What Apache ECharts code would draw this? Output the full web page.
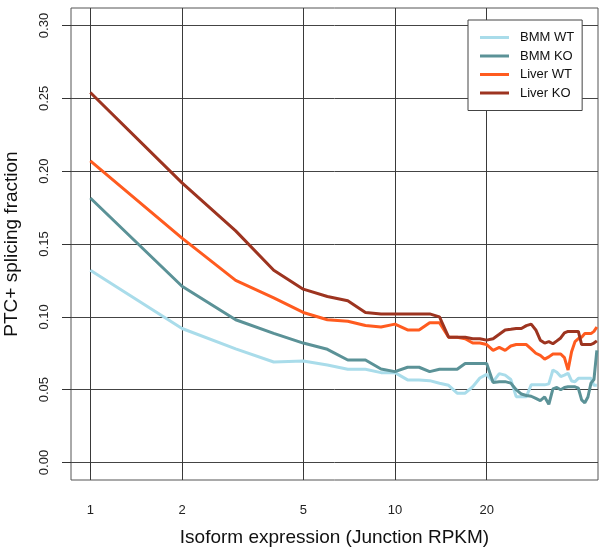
<!DOCTYPE html>
<html>
<head>
<meta charset="utf-8">
<script src="https://cdn.jsdelivr.net/npm/echarts@6/dist/echarts.min.js"></script>
<style>
  html, body { margin: 0; padding: 0; background: #fff; }
  #chart { width: 600px; height: 548px; }
</style>
</head>
<body>
<div id="chart"></div>
<script>
// junction RPKM cutoff (x), one point per integer value
const rpkm = [];
for (let i = 1; i <= 46; i++) rpkm.push(i);

const bmmWT = [0.132, 0.092, 0.078, 0.069, 0.0697, 0.067, 0.064, 0.064, 0.0617, 0.0617,
  0.0567, 0.0567, 0.0562, 0.0544, 0.053, 0.0476, 0.0476, 0.052, 0.058, 0.0605,
  0.0555, 0.061, 0.060, 0.057, 0.0452, 0.0452, 0.0452, 0.0533, 0.0533, 0.0533,
  0.0533, 0.054, 0.0635, 0.062, 0.059, 0.060, 0.0613, 0.056, 0.0555, 0.0578,
  0.0578, 0.0578, 0.0578, 0.0578, 0.053, 0.053];

const bmmKO = [0.1816, 0.121, 0.098, 0.0887, 0.082, 0.0777, 0.0704, 0.0704, 0.0642, 0.0624,
  0.0654, 0.0654, 0.0624, 0.064, 0.064, 0.064, 0.068, 0.068, 0.068, 0.068,
  0.055, 0.0555, 0.0555, 0.0545, 0.050, 0.047, 0.046, 0.0455, 0.044, 0.0425,
  0.045, 0.040, 0.0505, 0.0515, 0.050, 0.0515, 0.052, 0.052, 0.052, 0.051,
  0.043, 0.041, 0.045, 0.0545, 0.057, 0.077];

const liverWT = [0.207, 0.154, 0.125, 0.113, 0.103, 0.098, 0.097, 0.094, 0.093, 0.095,
  0.091, 0.091, 0.096, 0.096, 0.086, 0.086, 0.085, 0.082, 0.082, 0.081,
  0.077, 0.079, 0.077, 0.080, 0.081, 0.081, 0.081, 0.078, 0.075, 0.0735,
  0.071, 0.0725, 0.0745, 0.0745, 0.0745, 0.072, 0.0635, 0.076, 0.083, 0.085,
  0.086, 0.0885, 0.0885, 0.0885, 0.090, 0.093];

const liverKO = [0.254, 0.192, 0.159, 0.132, 0.119, 0.114, 0.111, 0.103, 0.102, 0.102,
  0.102, 0.102, 0.102, 0.100, 0.086, 0.086, 0.086, 0.085, 0.085, 0.084,
  0.085, 0.088, 0.091, 0.0915, 0.092, 0.092, 0.094, 0.095, 0.091, 0.084,
  0.082, 0.083, 0.0815, 0.0835, 0.0855, 0.089, 0.090, 0.090, 0.090, 0.090,
  0.081, 0.081, 0.081, 0.081, 0.082, 0.0835];

const xTicks = [1, 2, 5, 10, 20];
const yTicks = [0, 0.05, 0.10, 0.15, 0.20, 0.25, 0.30];

const names = ['BMM WT', 'BMM KO', 'Liver WT', 'Liver KO'];
const colors = ['#a9dcea', '#5b9297', '#ff5b1f', '#9d3420'];
const values = [bmmWT, bmmKO, liverWT, liverKO];

const font = '"Liberation Sans", Arial, Helvetica, sans-serif';

function pairs(ys) {
  return ys.map(function (y, i) { return [rpkm[i], y]; });
}

const chart = echarts.init(document.getElementById('chart'), null, { renderer: 'canvas' });

const option = {
  animation: false,
  backgroundColor: '#fff',
  textStyle: { fontFamily: font },
  grid: {
    left: 71, right: 2, top: 8, bottom: 68,
    containLabel: false,
    outerBoundsMode: 'none',
    show: true,
    borderColor: '#555',
    borderWidth: 1
  },
  legend: {
    data: names,
    orient: 'vertical',
    left: 468,
    top: 20,
    backgroundColor: '#fff',
    borderColor: '#444',
    borderWidth: 1,
    borderRadius: 0,
    padding: [11, 8, 11, 12],
    itemGap: 5.5,
    itemWidth: 29,
    itemHeight: 3,
    icon: 'rect',
    textStyle: { fontFamily: font, fontSize: 13, color: '#111', padding: [0, 0, 0, 6] }
  },
  xAxis: {
    type: 'log',
    logBase: 10,
    min: 0.864,
    max: 46.4,
    name: 'Isoform expression (Junction RPKM)',
    nameLocation: 'middle',
    nameGap: 48,
    nameTextStyle: { fontFamily: font, fontSize: 19, color: '#111' },
    axisLine: { show: false },
    axisTick: { show: true, inside: false, length: 9, customValues: xTicks, lineStyle: { color: '#333' } },
    axisLabel: {
      customValues: xTicks,
      margin: 24,
      fontSize: 13,
      color: '#222',
      formatter: function (v) { return String(Math.round(v)); }
    },
    splitLine: { show: true, lineStyle: { color: '#3a3a3a', width: 1 } },
    minorSplitLine: { show: false }
  },
  yAxis: {
    type: 'value',
    min: -0.012,
    max: 0.312,
    name: 'PTC+ splicing fraction',
    nameLocation: 'middle',
    nameGap: 50,
    nameTextStyle: { fontFamily: font, fontSize: 19, color: '#111' },
    axisLine: { show: false },
    axisTick: { show: true, inside: false, length: 9, customValues: yTicks, lineStyle: { color: '#333' } },
    axisLabel: {
      customValues: yTicks,
      rotate: 90,
      margin: 20,
      fontSize: 13,
      color: '#222',
      formatter: function (v) { return v.toFixed(2); }
    },
    splitLine: { show: true, lineStyle: { color: '#444', width: 1 } }
  },
  series: names.map(function (n, i) {
    return {
      name: n,
      type: 'line',
      data: pairs(values[i]),
      symbol: 'none',
      color: colors[i],
      lineStyle: { color: colors[i], width: 3 },
      clip: true,
      z: 2 + i
    };
  })
};

chart.setOption(option);
</script>
</body>
</html>
